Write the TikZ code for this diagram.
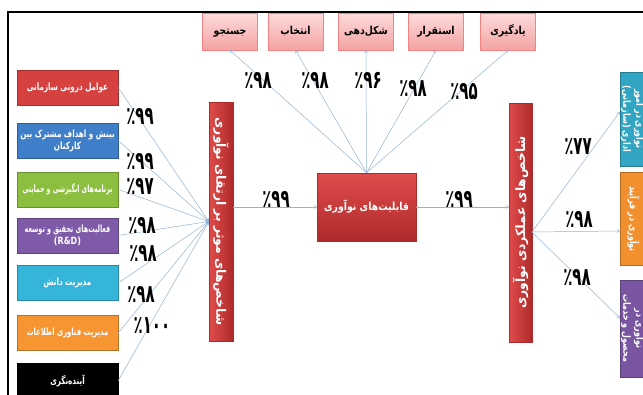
\documentclass[tikz,border=0pt]{standalone}
\usepackage{fontspec}
\usepackage{graphicx}
\usepackage{xcolor}
\usetikzlibrary{arrows.meta}
\TeXXeTstate=1
\newfontfamily\persfont[Script=Arabic]{DejaVu Sans}
\newcommand\boxfont{\persfont\bfseries\fontsize{10}{12}\selectfont}
\newcommand\bigfont{\persfont\bfseries\fontsize{11}{13}\selectfont}
\newcommand\barfont{\persfont\bfseries\fontsize{13}{15}\selectfont}
\newcommand\pctfont{\persfont\bfseries\fontsize{25}{26}\selectfont}
\newcommand\fa[2][0.72]{\scalebox{#1}[1]{\beginR #2\endR}}
\newcommand\pc[1]{\scalebox{0.6}[1]{#1}}
\definecolor{linkblue}{HTML}{95B3D7}
\definecolor{pinktop}{HTML}{FFDADA}
\definecolor{pinkbot}{HTML}{F3A3A3}
\definecolor{redtop}{HTML}{E04B4B}
\definecolor{redbot}{HTML}{AE2B2B}
\definecolor{fred}{HTML}{D6403E}
\definecolor{fblue}{HTML}{3F7EC8}
\definecolor{fgreen}{HTML}{8CBF3F}
\definecolor{fpurple}{HTML}{7E5AA8}
\definecolor{fcyan}{HTML}{36B5DA}
\definecolor{forange}{HTML}{F69532}
\definecolor{rteal}{HTML}{31A5C2}
\definecolor{rorange}{HTML}{F29030}
\definecolor{rpurple}{HTML}{7A56A2}

\begin{document}
\begin{tikzpicture}[x=1pt, y=-1pt,
  link/.style={draw=linkblue, line width=0.5pt, -{To[length=3pt,width=3.5pt]}},
  pct/.style={inner sep=0pt, font=\pctfont},
  factor/.style={minimum width=101pt, minimum height=35pt, inner sep=1pt, text=white, font=\boxfont, align=center, fill=#1, draw=#1!75!black, line width=0.5pt},
  stage/.style={minimum width=55pt, minimum height=37pt, inner sep=1pt, text height=7pt, text depth=2pt, font=\bigfont, top color=pinktop, bottom color=pinkbot, draw=pinkbot!80!red},
  redbar/.style={inner sep=0pt, text=white, font=\barfont, left color=redtop, right color=redbot, draw=redbot},
  outcome/.style={minimum width=27pt, inner sep=0pt, text=white, font=\boxfont, fill=#1, draw=#1!75!black, line width=0.5pt}]
\useasboundingbox (0,0) rectangle (643,394);
\clip (0,0) rectangle (643,394);
\fill[white] (0,0) rectangle (643,394);
\draw[line width=2pt] (8,400) -- (8,12) -- (650,12);

\node[factor=fred] (f1) at (67.5,87.5) {\fa{عوامل درونی سازمانی}};
\node[factor=fblue] (f2) at (67.5,140.5) {\fa{بینش و اهداف مشترک بین}\\\fa{کارکنان}};
\node[factor=fgreen] (f3) at (67.5,189.5) {\fa[0.62]{برنامه‌های انگیزشی و حمایتی}};
\node[factor=fpurple] (f4) at (67.5,235.5) {\fa[0.64]{فعالیت‌های تحقیق و توسعه}\\\scalebox{0.8}[1]{(R\&D)}};
\node[factor=fcyan] (f5) at (67.5,283) {\fa{مدیریت دانش}};
\node[factor=forange] (f6) at (67.5,333) {\fa[0.68]{مدیریت فناوری اطلاعات}};
\node[factor=black] (f7) at (67.5,380.5) {\fa{آینده‌نگری}};

\node[redbar, minimum width=24pt, minimum height=239pt] (lvert) at (221,221.5) {\rotatebox{-90}{\fa[0.95]{شاخص‌های موثر بر ارتقای نوآوری}}};
\node[redbar, minimum width=99pt, minimum height=68pt, top color=redtop, bottom color=redbot, font=\bigfont] (cap) at (366.5,207) {\fa[0.85]{قابلیت‌های نوآوری}};
\node[redbar, minimum width=23pt, minimum height=239pt] (rvert) at (520.5,222.5) {\rotatebox{90}{\fa[0.95]{شاخص‌های عملکردی نوآوری}}};

\node[stage] (s1) at (230,31.5) {\fa[0.85]{جستجو}};
\node[stage] (s2) at (295.5,31.5) {\fa[0.85]{انتخاب}};
\node[stage] (s3) at (366,31.5) {\fa[0.85]{شکل‌دهی}};
\node[stage] (s4) at (436,31.5) {\fa[0.85]{استقرار}};
\node[stage] (s5) at (508,31.5) {\fa[0.85]{یادگیری}};

\node[outcome=rteal, minimum height=94pt] (o1) at (633.5,119) {\rotatebox{-90}{\shortstack{\fa[0.8]{نوآوری در امور}\\\fa[0.8]{اداری (سازمانی)}}}};
\node[outcome=rorange, minimum height=93pt] (o2) at (633.5,219) {\rotatebox{-90}{\fa[0.8]{نوآوری در فرآیند}}};
\node[outcome=rpurple, minimum height=97pt] (o3) at (633.5,328.5) {\rotatebox{-90}{\shortstack{\fa[0.8]{نوآوری در}\\\fa[0.8]{محصول و خدمات}}}};

\coordinate (rhub) at (532,232);
\foreach \f in {f1,f2,f3,f4,f5,f6,f7} \draw[link] (\f.east) -- (lvert.west);
\foreach \s in {s1,s2,s3,s4,s5} \draw[link] (cap.north) -- (\s.south);
\draw[link] (lvert.east |- cap.west) -- (cap.west);
\draw[link] (cap.east) -- (rvert.west |- cap.east);
\draw[link] (rhub) -- (o1.west |- 0,112);
\draw[link] (rhub) -- (o2.west |- 0,231);
\draw[link] (rhub) -- (o3.west |- 0,318);

\node[pct] (p1) at (140,116) {\pc{٪۹۹}};
\node[pct] (p2) at (140,161) {\pc{٪۹۹}};
\node[pct] (p3) at (140,186) {\pc{٪۹۷}};
\node[pct] (p4) at (142,225) {\pc{٪۹۸}};
\node[pct] (p5) at (143,253) {\pc{٪۹۸}};
\node[pct] (p6) at (141,294) {\pc{٪۹۸}};
\node[pct] (p7) at (152,326) {\pc{٪۱۰۰}};
\node[pct] (t1) at (258,80) {\pc{٪۹۸}};
\node[pct] (t2) at (315,80) {\pc{٪۹۸}};
\node[pct] (t3) at (368,80) {\pc{٪۹۶}};
\node[pct] (t4) at (413,88) {\pc{٪۹۸}};
\node[pct] (t5) at (464,92) {\pc{٪۹۵}};
\node[pct] (c1) at (276,199) {\pc{٪۹۹}};
\node[pct] (c2) at (459,199) {\pc{٪۹۹}};
\node[pct] (r1) at (578,147) {\pc{٪۷۷}};
\node[pct] (r2) at (579,219) {\pc{٪۹۸}};
\node[pct] (r3) at (577,277) {\pc{٪۹۸}};
\end{tikzpicture}
\end{document}
